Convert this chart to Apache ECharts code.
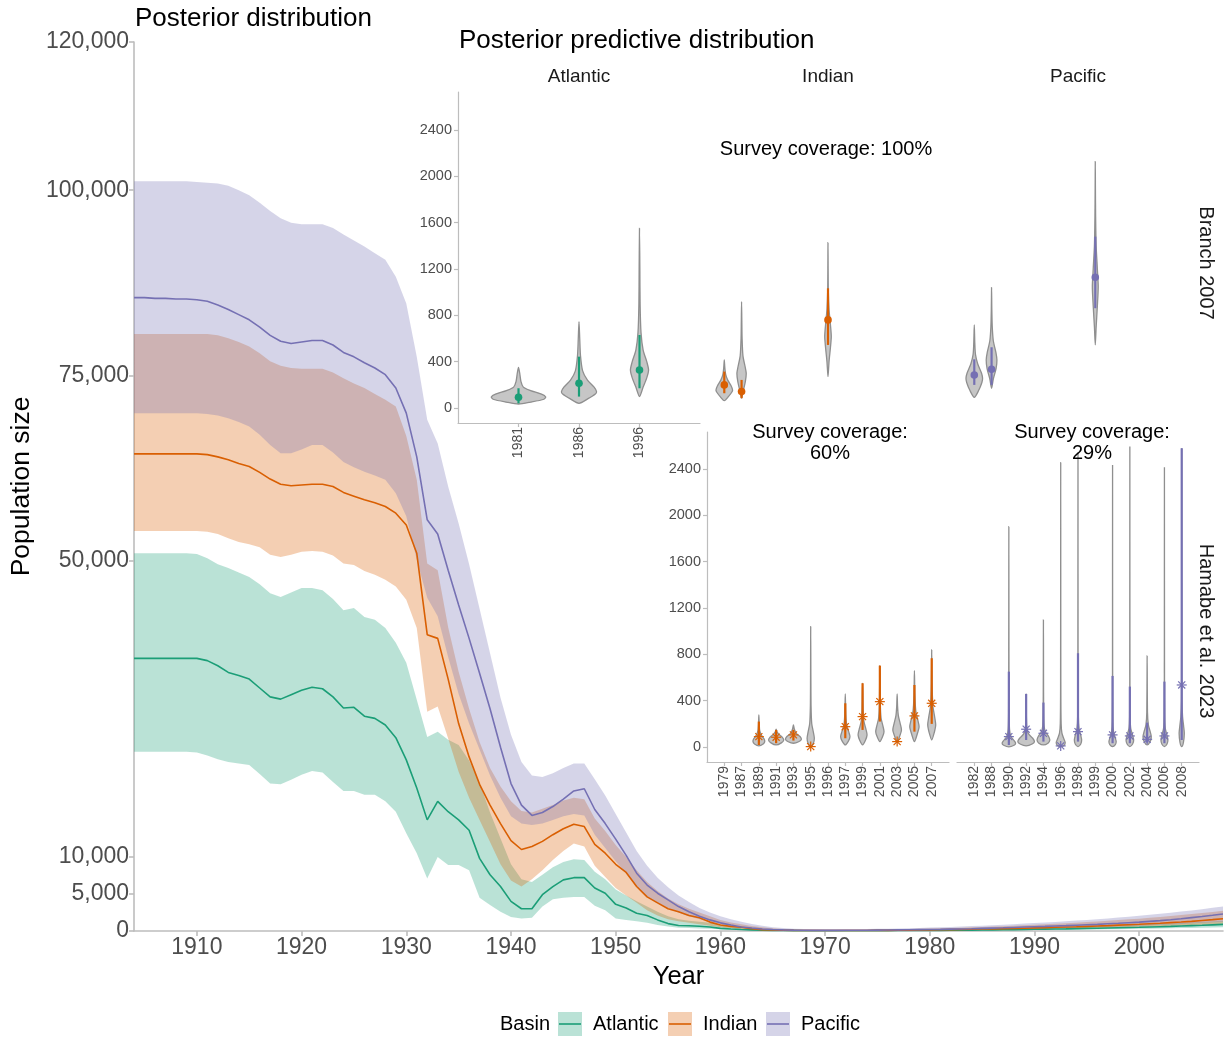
<!DOCTYPE html>
<html>
<head>
<meta charset="utf-8">
<title>Whale abundance: posterior and posterior predictive distributions</title>
<script src="https://cdn.jsdelivr.net/npm/echarts@6/dist/echarts.min.js"></script>
<style>
  html, body { margin: 0; padding: 0; background: #ffffff; }
  #chart { width: 1225px; height: 1046px; }
</style>
</head>
<body>
<div id="chart"></div>
<script>
const FONT = '"Liberation Sans", Arial, Helvetica, sans-serif';
const START_YEAR = 1904;

// ---- Posterior abundance by basin (thousands), annual 1904-2008 ----
const atlanticMedian = [
  36.8, 36.8, 36.8, 36.8, 36.8, 36.8,
  36.8, 36.5, 35.8, 34.9, 34.5, 34.0, 32.8, 31.6, 31.3, 31.9,
  32.5, 32.9, 32.7, 31.6, 30.1, 30.2, 29.0, 28.7, 27.8, 26.1,
  23.1, 19.3, 15.0, 17.5, 16.1, 15.0, 13.6, 9.8, 7.6, 6.0,
  4.0, 3.0, 3.0, 4.9, 6.0, 6.9, 7.2, 7.2, 5.8, 5.1,
  3.6, 3.1, 2.4, 2.1, 1.5, 1.0, 0.75, 0.7, 0.65, 0.55,
  0.35, 0.27, 0.2, 0.15, 0.1, 0.08, 0.06, 0.05, 0.04, 0.04,
  0.04, 0.04, 0.04, 0.04, 0.04, 0.05, 0.05, 0.06, 0.06, 0.07,
  0.08, 0.09, 0.1, 0.11, 0.12, 0.13, 0.15, 0.17, 0.19, 0.21,
  0.23, 0.25, 0.27, 0.29, 0.32, 0.35, 0.38, 0.41, 0.44, 0.47,
  0.5, 0.54, 0.58, 0.62, 0.67, 0.72, 0.77, 0.83, 0.89
];
const atlanticUpper = [
  51.0, 51.0, 51.0, 51.0, 51.0, 51.0,
  50.9, 50.3, 49.5, 49.0, 48.4, 47.8, 46.8, 45.6, 45.1, 45.7,
  46.3, 46.3, 46.0, 44.8, 43.3, 43.6, 42.4, 42.0, 40.9, 38.9,
  36.2, 31.2, 26.2, 26.9, 25.8, 25.1, 23.0, 20.0, 16.0, 12.5,
  9.0, 7.0, 6.6, 7.6, 8.6, 9.3, 9.7, 9.6, 8.0, 7.0,
  5.6, 4.8, 4.0, 3.3, 2.6, 2.0, 1.6, 1.4, 1.25, 1.1,
  0.85, 0.65, 0.5, 0.38, 0.28, 0.2, 0.15, 0.12, 0.1, 0.09,
  0.08, 0.08, 0.08, 0.08, 0.09, 0.1, 0.11, 0.12, 0.13, 0.15,
  0.16, 0.18, 0.2, 0.22, 0.24, 0.27, 0.3, 0.33, 0.36, 0.39,
  0.42, 0.45, 0.49, 0.53, 0.57, 0.61, 0.65, 0.7, 0.75, 0.8,
  0.85, 0.9, 0.96, 1.02, 1.08, 1.14, 1.2, 1.27, 1.34
];
const atlanticLower = [
  24.2, 24.2, 24.2, 24.2, 24.2, 24.2,
  24.1, 23.7, 23.2, 22.8, 22.6, 22.4, 21.2, 19.9, 19.8, 20.4,
  21.1, 21.6, 21.4, 20.1, 18.9, 18.9, 18.4, 18.4, 17.5, 16.1,
  13.2, 10.5, 7.1, 10.0, 8.9, 8.9, 8.2, 4.5, 3.5, 2.6,
  1.9, 1.7, 1.8, 3.3, 4.3, 4.5, 4.6, 4.6, 3.4, 2.8,
  1.7, 1.5, 1.3, 1.1, 0.8, 0.6, 0.45, 0.4, 0.35, 0.3,
  0.22, 0.16, 0.12, 0.08, 0.06, 0.04, 0.03, 0.02, 0.02, 0.02,
  0.02, 0.02, 0.02, 0.02, 0.02, 0.02, 0.02, 0.03, 0.03, 0.03,
  0.04, 0.04, 0.05, 0.05, 0.06, 0.07, 0.08, 0.09, 0.1, 0.11,
  0.12, 0.13, 0.14, 0.15, 0.17, 0.19, 0.21, 0.23, 0.25, 0.27,
  0.29, 0.31, 0.33, 0.36, 0.39, 0.42, 0.45, 0.48, 0.52
];

const indianMedian = [
  64.4, 64.4, 64.4, 64.4, 64.4, 64.4,
  64.4, 64.3, 64.0, 63.6, 63.1, 62.7, 61.9, 61.0, 60.3, 60.1,
  60.2, 60.3, 60.3, 60.0, 59.2, 58.7, 58.2, 57.8, 57.3, 56.4,
  54.8, 51.0, 40.0, 39.5, 34.0, 28.0, 23.5, 19.8, 17.0, 14.5,
  12.2, 11.0, 11.4, 12.1, 13.0, 13.8, 14.4, 14.1, 11.7, 10.5,
  9.0, 7.9, 6.0, 4.6, 3.8, 3.0, 2.6, 2.1, 1.8, 1.2,
  0.8, 0.62, 0.5, 0.3, 0.18, 0.14, 0.1, 0.08, 0.07, 0.06,
  0.06, 0.06, 0.06, 0.07, 0.07, 0.08, 0.09, 0.1, 0.11, 0.13,
  0.15, 0.17, 0.19, 0.21, 0.23, 0.26, 0.29, 0.32, 0.35, 0.38,
  0.42, 0.46, 0.5, 0.54, 0.58, 0.63, 0.68, 0.73, 0.79, 0.85,
  0.91, 0.98, 1.05, 1.13, 1.21, 1.3, 1.42, 1.53, 1.65
];
const indianUpper = [
  80.6, 80.6, 80.6, 80.6, 80.6, 80.6,
  80.6, 80.6, 80.4, 80.0, 79.5, 78.9, 78.0, 76.9, 76.3, 76.0,
  75.9, 75.9, 75.9, 75.4, 74.6, 73.9, 73.3, 72.5, 71.7, 70.8,
  66.8, 60.9, 49.6, 48.7, 41.0, 35.0, 30.0, 25.5, 22.0, 19.5,
  17.5, 16.2, 16.0, 16.5, 17.0, 17.6, 18.0, 17.8, 15.2, 13.5,
  11.6, 10.0, 8.2, 6.6, 5.4, 4.4, 3.6, 3.0, 2.5, 2.0,
  1.5, 1.15, 0.9, 0.68, 0.5, 0.36, 0.27, 0.21, 0.18, 0.16,
  0.15, 0.15, 0.16, 0.17, 0.18, 0.2, 0.22, 0.24, 0.27, 0.3,
  0.33, 0.37, 0.41, 0.45, 0.5, 0.55, 0.6, 0.65, 0.71, 0.77,
  0.83, 0.9, 0.97, 1.04, 1.12, 1.2, 1.29, 1.38, 1.47, 1.57,
  1.67, 1.78, 1.9, 2.02, 2.15, 2.28, 2.42, 2.57, 2.72
];
const indianLower = [
  54.0, 54.0, 54.0, 54.0, 54.0, 54.0,
  54.0, 53.9, 53.6, 53.0, 52.5, 52.2, 51.8, 50.8, 50.5, 50.8,
  51.2, 51.3, 51.2, 50.7, 49.6, 49.4, 48.6, 48.1, 47.4, 46.5,
  44.7, 40.9, 29.6, 30.3, 26.0, 21.5, 18.0, 15.0, 12.0, 9.0,
  6.8, 6.0, 7.0, 8.2, 9.6, 10.8, 11.8, 11.4, 8.8, 7.3,
  5.8, 4.8, 3.8, 2.8, 2.1, 1.6, 1.3, 1.1, 0.9, 0.7,
  0.5, 0.36, 0.26, 0.18, 0.12, 0.08, 0.06, 0.04, 0.03, 0.03,
  0.03, 0.03, 0.03, 0.03, 0.03, 0.04, 0.04, 0.05, 0.06, 0.07,
  0.08, 0.09, 0.1, 0.11, 0.12, 0.14, 0.16, 0.18, 0.2, 0.22,
  0.24, 0.26, 0.29, 0.32, 0.35, 0.38, 0.41, 0.44, 0.48, 0.52,
  0.56, 0.6, 0.65, 0.7, 0.75, 0.8, 0.86, 0.92, 0.98
];

const pacificMedian = [
  85.5, 85.5, 85.4, 85.4, 85.3, 85.3,
  85.2, 85.0, 84.5, 83.9, 83.2, 82.5, 81.5, 80.4, 79.6, 79.3,
  79.5, 79.7, 79.7, 79.1, 78.1, 77.5, 76.7, 76.0, 75.1, 73.3,
  69.9, 64.0, 55.5, 53.6, 48.7, 44.0, 39.5, 34.8, 30.0, 24.8,
  19.9, 17.0, 15.6, 16.0, 16.8, 17.8, 18.9, 19.2, 16.4, 14.5,
  12.4, 10.2, 7.8, 6.2, 5.1, 4.2, 3.3, 2.6, 2.0, 1.5,
  1.1, 0.8, 0.55, 0.4, 0.28, 0.2, 0.15, 0.12, 0.1, 0.09,
  0.09, 0.09, 0.1, 0.1, 0.11, 0.12, 0.13, 0.15, 0.17, 0.19,
  0.2, 0.22, 0.25, 0.28, 0.31, 0.35, 0.39, 0.43, 0.48, 0.53,
  0.58, 0.62, 0.67, 0.72, 0.78, 0.84, 0.9, 0.97, 1.04, 1.12,
  1.2, 1.3, 1.4, 1.52, 1.65, 1.8, 1.95, 2.12, 2.3
];
const pacificUpper = [
  101.2, 101.2, 101.2, 101.2, 101.2, 101.2,
  101.1, 101.0, 100.9, 100.6, 100.0, 99.3, 98.3, 97.2, 96.2, 95.6,
  95.4, 95.4, 95.4, 94.9, 94.0, 93.2, 92.4, 91.5, 90.6, 88.3,
  84.7, 77.5, 69.0, 65.8, 60.0, 55.0, 49.5, 43.5, 37.5, 31.5,
  26.5, 22.8, 21.0, 20.8, 21.3, 22.0, 22.6, 22.6, 20.5, 18.3,
  15.8, 13.3, 10.8, 8.8, 7.2, 5.9, 4.8, 3.9, 3.1, 2.5,
  2.0, 1.6, 1.25, 0.95, 0.7, 0.52, 0.4, 0.32, 0.27, 0.24,
  0.23, 0.23, 0.24, 0.25, 0.27, 0.29, 0.32, 0.35, 0.38, 0.42,
  0.46, 0.5, 0.55, 0.6, 0.66, 0.72, 0.78, 0.85, 0.92, 1.0,
  1.07, 1.15, 1.23, 1.32, 1.41, 1.5, 1.6, 1.7, 1.81, 1.93,
  2.05, 2.18, 2.32, 2.47, 2.62, 2.78, 2.95, 3.13, 3.32
];
const pacificLower = [
  69.9, 69.9, 69.9, 69.9, 69.9, 69.9,
  69.9, 69.8, 69.6, 69.2, 68.7, 68.1, 67.0, 65.6, 64.5, 64.5,
  65.0, 65.6, 65.6, 64.6, 63.3, 62.6, 62.0, 61.5, 60.9, 59.1,
  56.0, 50.1, 45.0, 42.5, 37.0, 32.0, 28.0, 24.5, 21.0, 18.0,
  15.5, 14.5, 14.3, 14.5, 15.0, 15.5, 15.8, 15.6, 13.0, 11.2,
  9.4, 7.8, 6.0, 4.6, 3.8, 3.1, 2.5, 2.0, 1.6, 1.2,
  0.9, 0.65, 0.45, 0.3, 0.2, 0.14, 0.1, 0.08, 0.06, 0.05,
  0.05, 0.05, 0.05, 0.05, 0.06, 0.06, 0.07, 0.08, 0.09, 0.1,
  0.11, 0.12, 0.13, 0.15, 0.17, 0.19, 0.21, 0.23, 0.26, 0.29,
  0.32, 0.35, 0.38, 0.41, 0.45, 0.49, 0.53, 0.57, 0.62, 0.67,
  0.72, 0.77, 0.83, 0.89, 0.96, 1.03, 1.1, 1.18, 1.26
];

// Axis ticks of the main panel
const yearTicks = [1910, 1920, 1930, 1940, 1950, 1960, 1970, 1980, 1990, 2000];
const abundanceTicks = [0, 5000, 10000, 50000, 75000, 100000, 120000];

// ---- Posterior predictive checks against survey estimates ----
const atlanticSurveyYears = ['1981', '1986', '1996'];
const indianSurveyYears = ['1979', '1987', '1989', '1991', '1993', '1995', '1996', '1997', '1999', '2001', '2003', '2005', '2007'];
const pacificSurveyYears = ['1982', '1988', '1990', '1992', '1994', '1996', '1998', '1999', '2000', '2002', '2004', '2006', '2008'];
const insetTicks = [0, 400, 800, 1200, 1600, 2000, 2400];

// Violin outlines: [survey year, [[abundance, half-width], ...]]
const branchAtlanticViolins = [
  ['1981', [[34, 0], [50, 0.2], [75, 0.42], [95, 0.45], [120, 0.38], [150, 0.2], [180, 0.08], [230, 0.04], [300, 0.02], [351, 0]]],
  ['1986', [[40, 0], [80, 0.15], [120, 0.27], [141, 0.29], [180, 0.25], [240, 0.14], [320, 0.06], [450, 0.025], [600, 0.012], [745, 0]]],
  ['1996', [[98, 0], [180, 0.06], [260, 0.12], [328, 0.15], [400, 0.12], [500, 0.06], [650, 0.025], [900, 0.01], [1200, 0.006], [1551, 0]]]
];
const branchIndianViolins = [
  ['1979', [[63, 0], [100, 0.25], [140, 0.45], [155, 0.48], [190, 0.4], [240, 0.2], [290, 0.08], [350, 0.03], [414, 0]]],
  ['1987', [[84, 0], [150, 0.1], [230, 0.22], [299, 0.27], [360, 0.2], [450, 0.08], [600, 0.03], [750, 0.015], [918, 0]]],
  ['1996', [[270, 0], [400, 0.06], [520, 0.14], [616, 0.19], [720, 0.14], [850, 0.06], [1000, 0.02], [1200, 0.008], [1427, 0]]]
];
const branchPacificViolins = [
  ['1982', [[92, 0], [150, 0.25], [220, 0.44], [256, 0.48], [300, 0.42], [380, 0.2], [460, 0.07], [560, 0.03], [717, 0]]],
  ['1988', [[170, 0], [250, 0.1], [340, 0.26], [414, 0.31], [480, 0.25], [580, 0.1], [700, 0.04], [850, 0.015], [1039, 0]]],
  ['1999', [[544, 0], [700, 0.05], [880, 0.12], [1047, 0.17], [1200, 0.12], [1400, 0.05], [1650, 0.02], [1900, 0.008], [2127, 0]]]
];
const hamabeIndianViolins = [
  ['1989', [[9, 0], [25, 0.25], [46, 0.34], [70, 0.3], [100, 0.15], [140, 0.05], [200, 0.02], [276, 0]]],
  ['1991', [[17, 0], [35, 0.3], [60, 0.44], [85, 0.35], [110, 0.15], [130, 0.05], [153, 0]]],
  ['1993', [[32, 0], [45, 0.3], [66, 0.46], [90, 0.38], [120, 0.15], [155, 0.05], [190, 0]]],
  ['1995', [[0, 0], [30, 0.15], [75, 0.21], [130, 0.15], [200, 0.06], [350, 0.02], [600, 0.01], [1039, 0]]],
  ['1997', [[17, 0], [50, 0.18], [89, 0.27], [130, 0.2], [190, 0.08], [280, 0.03], [458, 0]]],
  ['1999', [[17, 0], [55, 0.16], [104, 0.26], [150, 0.2], [220, 0.08], [330, 0.03], [550, 0]]],
  ['2001', [[46, 0], [90, 0.16], [132, 0.24], [180, 0.18], [250, 0.07], [380, 0.025], [700, 0]]],
  ['2003', [[46, 0], [95, 0.15], [147, 0.25], [200, 0.18], [270, 0.07], [350, 0.025], [458, 0]]],
  ['2005', [[46, 0], [110, 0.16], [175, 0.27], [230, 0.2], [310, 0.08], [450, 0.025], [659, 0]]],
  ['2007', [[60, 0], [120, 0.14], [190, 0.23], [260, 0.17], [350, 0.07], [550, 0.02], [837, 0]]]
];
const hamabePacificViolins = [
  ['1990', [[0, 0], [15, 0.3], [32, 0.39], [55, 0.3], [90, 0.12], [150, 0.04], [300, 0.015], [800, 0.006], [1902, 0]]],
  ['1992', [[9, 0], [25, 0.35], [46, 0.48], [75, 0.38], [110, 0.15], [150, 0.05], [250, 0.015], [458, 0]]],
  ['1994', [[17, 0], [35, 0.28], [60, 0.37], [90, 0.3], [130, 0.12], [180, 0.04], [350, 0.012], [1097, 0]]],
  ['1996', [[3, 0], [15, 0.2], [37, 0.26], [70, 0.18], [120, 0.07], [200, 0.025], [500, 0.008], [2455, 0]]],
  ['1998', [[3, 0], [25, 0.16], [60, 0.21], [100, 0.16], [160, 0.06], [260, 0.02], [600, 0.006], [2541, 0]]],
  ['2000', [[3, 0], [20, 0.16], [46, 0.21], [80, 0.15], [140, 0.05], [250, 0.015], [600, 0.005], [2435, 0]]],
  ['2002', [[3, 0], [25, 0.16], [60, 0.22], [100, 0.16], [160, 0.05], [260, 0.015], [600, 0.005], [2593, 0]]],
  ['2004', [[17, 0], [45, 0.17], [89, 0.24], [130, 0.18], [190, 0.07], [300, 0.02], [786, 0]]],
  ['2006', [[3, 0], [25, 0.15], [60, 0.2], [100, 0.15], [160, 0.05], [260, 0.015], [600, 0.005], [2415, 0]]],
  ['2008', [[3, 0], [40, 0.1], [118, 0.15], [180, 0.11], [260, 0.05], [400, 0.015], [800, 0.005], [2579, 0]]]
];

// Survey estimates: [survey year, estimate, 95% lower, 95% upper]
const branchAtlanticEstimates = [['1981', 92, 40, 170], ['1986', 213, 98, 443], ['1996', 328, 170, 630]];
const branchIndianEstimates = [['1979', 199, 127, 314], ['1987', 141, 84, 242], ['1996', 760, 544, 1033]];
const branchPacificEstimates = [['1982', 285, 199, 420], ['1988', 334, 199, 524], ['1999', 1128, 861, 1479]];
const hamabeIndianEstimates = [
  ['1989', 89, 17, 219], ['1991', 84, 32, 147], ['1993', 104, 55, 147], ['1995', 3, null, null],
  ['1997', 175, 75, 377], ['1999', 262, 147, 550], ['2001', 391, 219, 702], ['2003', 46, null, null],
  ['2005', 268, 132, 535], ['2007', 377, 199, 766]
];
const hamabePacificEstimates = [
  ['1990', 89, 17, 650], ['1992', 153, 60, 458], ['1994', 118, 46, 383], ['1996', 9, null, null],
  ['1998', 132, 46, 809], ['2000', 104, 32, 613], ['2002', 95, 32, 521], ['2004', 66, 37, 210],
  ['2006', 95, 32, 564], ['2008', 535, 60, 2579]
];

const basinNames = ['Atlantic', 'Indian', 'Pacific'];
const basinColors = { Atlantic: '#1b9e77', Indian: '#d95f02', Pacific: '#7570b3' };
const basinFills = { Atlantic: 'rgba(27,158,119,0.3)', Indian: 'rgba(217,95,2,0.3)', Pacific: 'rgba(117,112,179,0.3)' };
const posterior = {
  Atlantic: { med: atlanticMedian, lo: atlanticLower, hi: atlanticUpper },
  Indian: { med: indianMedian, lo: indianLower, hi: indianUpper },
  Pacific: { med: pacificMedian, lo: pacificLower, hi: pacificUpper }
};

const AXIS_GREY = '#bdbdbd';
const TICK_TEXT = '#4d4d4d';

// ---------- main panel series ----------
const series = [];
const toPairs = arr => arr.map((v, i) => [START_YEAR + i, v * 1000]);

// 95% credible ribbons, one polygon per basin
basinNames.forEach(b => {
  const p = posterior[b];
  series.push({
    type: 'custom', xAxisIndex: 0, yAxisIndex: 0, silent: true, z: 1,
    data: [[START_YEAR, 0]],
    renderItem: (params, api) => {
      const upper = p.hi.map((v, i) => api.coord([START_YEAR + i, v * 1000]));
      const lower = p.lo.map((v, i) => api.coord([START_YEAR + i, v * 1000])).reverse();
      return { type: 'polygon', shape: { points: upper.concat(lower) }, style: { fill: basinFills[b] } };
    }
  });
});
// posterior medians
basinNames.forEach(b => {
  series.push({
    type: 'line', name: b, xAxisIndex: 0, yAxisIndex: 0,
    data: toPairs(posterior[b].med), symbol: 'none', silent: true,
    lineStyle: { color: basinColors[b], width: 1.6 }, z: 2
  });
});

// ---------- inset panels ----------
const insetPanels = [
  { grid: { left: 458, top: 92, width: 242, height: 331 }, cats: atlanticSurveyYears, violins: branchAtlanticViolins, est: branchAtlanticEstimates, basin: 'Atlantic', mark: 'dot', showX: true, showY: true, ymax: 2728 },
  { grid: { left: 707, top: 92, width: 242, height: 331 }, cats: indianSurveyYears, violins: branchIndianViolins, est: branchIndianEstimates, basin: 'Indian', mark: 'dot', showX: false, showY: false, ymax: 2728 },
  { grid: { left: 957, top: 92, width: 242, height: 331 }, cats: pacificSurveyYears, violins: branchPacificViolins, est: branchPacificEstimates, basin: 'Pacific', mark: 'dot', showX: false, showY: false, ymax: 2728 },
  { grid: { left: 707, top: 432, width: 242, height: 330 }, cats: indianSurveyYears, violins: hamabeIndianViolins, est: hamabeIndianEstimates, basin: 'Indian', mark: 'star', showX: true, showY: true, ymax: 2719 },
  { grid: { left: 957, top: 432, width: 242, height: 330 }, cats: pacificSurveyYears, violins: hamabePacificViolins, est: hamabePacificEstimates, basin: 'Pacific', mark: 'star', showX: true, showY: false, ymax: 2719 }
];

const grids = [{ left: 133, right: 2, top: 42, bottom: 115 }];
const xAxes = [{
  gridIndex: 0, type: 'value', min: START_YEAR, max: 2008,
  name: 'Year', nameLocation: 'middle', nameGap: 29,
  nameTextStyle: { fontFamily: FONT, fontSize: 25.5, color: '#000' },
  axisLine: { onZero: false, lineStyle: { color: AXIS_GREY, width: 1.6 } },
  axisTick: { customValues: yearTicks, length: 5, lineStyle: { color: AXIS_GREY, width: 1.6 } },
  axisLabel: { customValues: yearTicks, formatter: v => String(v), fontFamily: FONT, fontSize: 23, color: TICK_TEXT, margin: 5 },
  splitLine: { show: false }
}];
const yAxes = [{
  gridIndex: 0, type: 'value', min: 0, max: 120000,
  name: 'Population size', nameLocation: 'middle', nameGap: 93, nameRotate: 90,
  nameTextStyle: { fontFamily: FONT, fontSize: 26.5, color: '#000' },
  axisLine: { show: true, lineStyle: { color: AXIS_GREY, width: 1.6 } },
  axisTick: { show: true, customValues: abundanceTicks, length: 5, lineStyle: { color: AXIS_GREY, width: 1.6 } },
  axisLabel: { customValues: abundanceTicks, fontFamily: FONT, fontSize: 23, color: TICK_TEXT, margin: 5,
    formatter: v => Number(v).toLocaleString('en-US') },
  splitLine: { show: false }
}];

insetPanels.forEach((panel, k) => {
  const idx = k + 1;
  const positions = panel.cats.map((_, i) => i);
  grids.push(panel.grid);
  xAxes.push({
    gridIndex: idx, type: 'value', min: -1, max: panel.cats.length, show: panel.showX,
    axisLine: { onZero: false, lineStyle: { color: AXIS_GREY, width: 1.2 } },
    axisTick: { customValues: positions, length: 4, lineStyle: { color: AXIS_GREY, width: 1.2 } },
    axisLabel: { customValues: positions, formatter: v => panel.cats[Math.round(v)], rotate: 90,
      fontFamily: FONT, fontSize: 14, color: TICK_TEXT, margin: 4 },
    splitLine: { show: false }
  });
  yAxes.push({
    gridIndex: idx, type: 'value', min: -130, max: panel.ymax, show: panel.showY,
    axisLine: { show: true, onZero: false, lineStyle: { color: AXIS_GREY, width: 1.2 } },
    axisTick: { show: true, customValues: insetTicks, length: 4, lineStyle: { color: AXIS_GREY, width: 1.2 } },
    axisLabel: { customValues: insetTicks, formatter: v => String(v), fontFamily: FONT, fontSize: 14.5, color: TICK_TEXT, margin: 6 },
    splitLine: { show: false }
  });

  // violins of posterior predicted survey estimates
  series.push({
    type: 'custom', xAxisIndex: idx, yAxisIndex: idx, silent: true, z: 3,
    data: panel.violins.map((v, i) => [panel.cats.indexOf(v[0]), i]),
    renderItem: (params, api) => {
      const x = api.value(0);
      const prof = panel.violins[api.value(1)][1];
      const right = prof.map(([val, w]) => api.coord([x + w, val]));
      const left = prof.slice(1, -1).reverse().map(([val, w]) => api.coord([x - w, val]));
      return {
        type: 'polygon',
        shape: { points: right.concat(left), smooth: 0.25 },
        style: { fill: '#c6c6c6', stroke: '#8f8f8f', lineWidth: 1.3 }
      };
    }
  });

  // survey estimates with 95% intervals
  const col = basinColors[panel.basin];
  series.push({
    type: 'custom', xAxisIndex: idx, yAxisIndex: idx, silent: true, z: 4,
    data: panel.est.map((e, i) => [panel.cats.indexOf(e[0]), i]),
    renderItem: (params, api) => {
      const x = api.value(0);
      const e = panel.est[api.value(1)];
      const children = [];
      if (e[2] != null && e[3] != null) {
        const a = api.coord([x, e[2]]), b = api.coord([x, e[3]]);
        children.push({ type: 'line', shape: { x1: a[0], y1: a[1], x2: b[0], y2: b[1] },
          style: { stroke: col, lineWidth: 2.2 } });
      }
      const c = api.coord([x, e[1]]);
      if (panel.mark === 'dot') {
        children.push({ type: 'circle', shape: { cx: c[0], cy: c[1], r: 3.8 }, style: { fill: col } });
      } else {
        const r = 5;
        [0, Math.PI / 4, Math.PI / 2, 3 * Math.PI / 4].forEach(t => {
          children.push({ type: 'line',
            shape: { x1: c[0] - r * Math.cos(t), y1: c[1] - r * Math.sin(t), x2: c[0] + r * Math.cos(t), y2: c[1] + r * Math.sin(t) },
            style: { stroke: col, lineWidth: 1.2 } });
        });
      }
      return { type: 'group', children };
    }
  });
});

// ---------- text, strips and legend ----------
const txt = (x, y, text, size, extra) => ({
  type: 'text', x, y, silent: true, z: 10,
  style: Object.assign({ text, fill: '#000', font: `${size}px ${FONT}`, textAlign: 'left', textVerticalAlign: 'middle' }, extra || {})
});

const graphic = [
  txt(135, 19, 'Posterior distribution', 26),
  txt(459, 41, 'Posterior predictive distribution', 26),
  txt(579, 77, 'Atlantic', 19, { textAlign: 'center', fill: '#1a1a1a' }),
  txt(828, 77, 'Indian', 19, { textAlign: 'center', fill: '#1a1a1a' }),
  txt(1078, 77, 'Pacific', 19, { textAlign: 'center', fill: '#1a1a1a' }),
  Object.assign(txt(1206, 263, 'Branch 2007', 20, { textAlign: 'center', fill: '#1a1a1a' }), { rotation: -Math.PI / 2 }),
  Object.assign(txt(1206, 631, 'Hamabe et al. 2023', 20, { textAlign: 'center', fill: '#1a1a1a' }), { rotation: -Math.PI / 2 }),
  txt(826, 149, 'Survey coverage: 100%', 20, { textAlign: 'center' }),
  txt(830, 443, 'Survey coverage:\n60%', 20, { textAlign: 'center', lineHeight: 21 }),
  txt(1092, 443, 'Survey coverage:\n29%', 20, { textAlign: 'center', lineHeight: 21 }),
  txt(500, 1024, 'Basin', 20)
];
const legendBoxX = [558, 668, 766];
basinNames.forEach((b, i) => {
  const x0 = legendBoxX[i];
  graphic.push({ type: 'rect', silent: true, shape: { x: x0, y: 1012, width: 24, height: 24 }, style: { fill: basinFills[b] } });
  graphic.push({ type: 'line', silent: true, shape: { x1: x0 + 1, y1: 1024, x2: x0 + 23, y2: 1024 }, style: { stroke: basinColors[b], lineWidth: 1.6 } });
  graphic.push(txt(x0 + 35, 1024, b, 20));
});

const chart = echarts.init(document.getElementById('chart'), null, { renderer: 'canvas' });
chart.setOption({
  backgroundColor: '#ffffff',
  animation: false,
  textStyle: { fontFamily: FONT },
  grid: grids,
  xAxis: xAxes,
  yAxis: yAxes,
  series,
  graphic
});
</script>
</body>
</html>
